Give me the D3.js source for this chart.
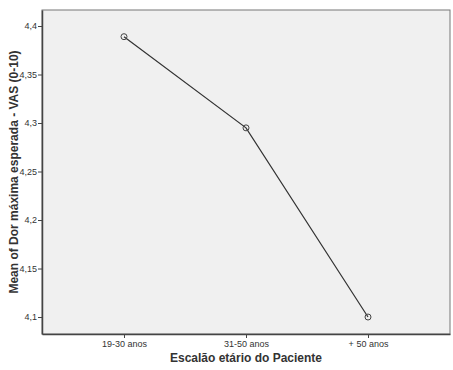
<!DOCTYPE html>
<html>
<head>
<meta charset="utf-8">
<script src="https://cdn.jsdelivr.net/npm/d3@7"></script>
<style>
  body { margin: 0; background: #fff; }
  text { font-family: "Liberation Sans", Arial, sans-serif; }
</style>
</head>
<body>
<svg id="chart" width="453" height="370"></svg>
<script>
// age groups and mean values
const categories = ['19-30 anos', '31-50 anos', '+ 50 anos'];
const means      = [4.389, 4.295, 4.100];
const yTicks     = [4.1, 4.15, 4.2, 4.25, 4.3, 4.35, 4.4];

const width  = 453,
      height = 370;
const margin = { top: 10, right: 3, bottom: 36, left: 42 };

let svg = d3.select('#chart');

let x
    = d3.scalePoint()
        .domain(categories)
        .range([margin.left, width - margin.right])
        .padding(0.672);

let y
    = d3.scaleLinear()
        .domain([4.0825, 4.4165])
        .range([height - margin.bottom, margin.top]);

let fmt = d => String(+d.toFixed(2)).replace('.', ',');

// plot background
svg.append('rect')
    .attr('x', margin.left)
    .attr('y', margin.top)
    .attr('width', width - margin.left - margin.right)
    .attr('height', height - margin.top - margin.bottom)
    .attr('fill', '#f0f0f0')
    .attr('stroke', '#777')
    .attr('stroke-width', 1);

// y axis
let yAxis = svg.append('g')
    .attr('transform', `translate(${margin.left},0)`)
    .call(d3.axisLeft(y).tickValues(yTicks).tickFormat(fmt)
        .tickSizeInner(4).tickSizeOuter(0).tickPadding(1));
yAxis.select('.domain').attr('stroke', '#444').attr('stroke-width', 1.5);
yAxis.selectAll('.tick line').attr('stroke', '#444');
yAxis.selectAll('.tick text')
    .attr('font-size', 9)
    .attr('fill', '#333')
    .attr('font-family', '"Liberation Sans", Arial, sans-serif');

// x axis
let xAxis = svg.append('g')
    .attr('transform', `translate(0,${height - margin.bottom})`)
    .call(d3.axisBottom(x).tickSizeInner(4).tickSizeOuter(0).tickPadding(3));
xAxis.select('.domain').attr('stroke', '#444').attr('stroke-width', 1.5);
xAxis.selectAll('.tick line').attr('stroke', '#444');
xAxis.selectAll('.tick text')
    .attr('font-size', 9)
    .attr('fill', '#333')
    .attr('font-family', '"Liberation Sans", Arial, sans-serif');

// line
let line
    = d3.line()
        .x((d, i) => x(categories[i]))
        .y(d => y(d));

svg.append('path')
    .datum(means)
    .attr('d', line)
    .attr('fill', 'none')
    .attr('stroke', '#333')
    .attr('stroke-width', 1.2);

svg.selectAll('circle.pt')
    .data(means)
    .enter()
    .append('circle')
    .attr('class', 'pt')
    .attr('cx', (d, i) => x(categories[i]))
    .attr('cy', d => y(d))
    .attr('r', 3)
    .attr('fill', 'none')
    .attr('stroke', '#444')
    .attr('stroke-width', 1);

// axis titles
svg.append('text')
    .attr('x', (margin.left + width - margin.right) / 2)
    .attr('y', 362)
    .attr('text-anchor', 'middle')
    .attr('font-size', 12)
    .attr('font-weight', 'bold')
    .attr('fill', '#333')
    .text('Escalão etário do Paciente');

svg.append('text')
    .attr('transform', `translate(18,${(margin.top + height - margin.bottom) / 2}) rotate(-90)`)
    .attr('text-anchor', 'middle')
    .attr('font-size', 12)
    .attr('font-weight', 'bold')
    .attr('fill', '#333')
    .text('Mean of Dor máxima esperada - VAS (0-10)');
</script>
</body>
</html>
